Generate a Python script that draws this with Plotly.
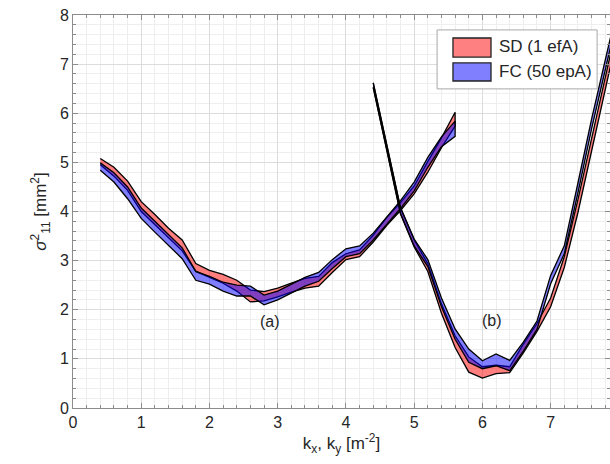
import plotly.graph_objects as go

# ---- band (a): x positions and upper/lower envelopes ----
x_a = [0.4, 0.6, 0.8, 1.0, 1.2, 1.4, 1.6, 1.8, 2.0, 2.2, 2.4, 2.6, 2.8, 3.0,
       3.2, 3.4, 3.6, 3.8, 4.0, 4.2, 4.4, 4.6, 4.8, 5.0, 5.2, 5.4, 5.6]
sd_a_hi = [5.08, 4.90, 4.62, 4.20, 3.94, 3.66, 3.42, 2.94, 2.80, 2.72, 2.60, 2.40, 2.37, 2.44,
           2.54, 2.64, 2.68, 2.96, 3.14, 3.22, 3.52, 3.88, 4.18, 4.52, 5.02, 5.50, 6.02]
sd_a_lo = [4.95, 4.72, 4.43, 4.00, 3.74, 3.46, 3.20, 2.78, 2.66, 2.54, 2.38, 2.16, 2.18, 2.26,
           2.36, 2.44, 2.48, 2.76, 3.02, 3.08, 3.38, 3.72, 4.02, 4.36, 4.80, 5.30, 5.74]
fc_a_hi = [4.99, 4.79, 4.50, 4.07, 3.80, 3.52, 3.26, 2.78, 2.68, 2.56, 2.50, 2.48, 2.30, 2.38,
           2.52, 2.66, 2.76, 3.02, 3.24, 3.30, 3.56, 3.90, 4.22, 4.60, 5.10, 5.52, 5.84]
fc_a_lo = [4.84, 4.60, 4.26, 3.86, 3.58, 3.30, 3.04, 2.60, 2.52, 2.38, 2.28, 2.28, 2.10, 2.20,
           2.34, 2.48, 2.58, 2.84, 3.08, 3.14, 3.42, 3.74, 4.06, 4.42, 4.90, 5.32, 5.53]

# ---- band (b) ----
x_b = [4.4, 4.6, 4.8, 5.0, 5.2, 5.4, 5.6, 5.8, 6.0, 6.2, 6.4, 6.6, 6.8, 7.0,
       7.2, 7.4, 7.6, 7.8, 8.0]
sd_b_hi = [6.62, 5.36, 4.07, 3.42, 2.94, 2.12, 1.47, 1.04, 0.84, 0.87, 0.84, 1.30, 1.72, 2.24,
           3.08, 4.24, 5.48, 6.72, 7.97]
sd_b_lo = [6.52, 5.24, 3.95, 3.28, 2.78, 1.93, 1.23, 0.73, 0.61, 0.70, 0.72, 1.12, 1.56, 2.06,
           2.86, 3.98, 5.22, 6.48, 7.73]
fc_b_hi = [6.62, 5.37, 4.08, 3.44, 3.02, 2.24, 1.61, 1.20, 0.96, 1.10, 0.97, 1.34, 1.77, 2.70,
           3.30, 4.58, 5.88, 7.08, 8.28]
fc_b_lo = [6.53, 5.25, 3.96, 3.30, 2.88, 2.06, 1.40, 0.93, 0.80, 0.86, 0.76, 1.16, 1.60, 2.53,
           3.14, 4.38, 5.68, 6.88, 8.08]

labels = ["(a)", "(b)"]
label_x = [2.89, 6.14]
label_y = [1.77, 1.79]

legend_names = ["SD (1 efA)", "FC (50 epA)"]

SD_FILL = "rgba(255,0,0,0.5)"
FC_FILL = "rgba(0,0,255,0.5)"
SD_SWATCH = "rgb(255,128,128)"
FC_SWATCH = "rgb(128,128,255)"
FONT = "Liberation Sans, Arial, sans-serif"
TXT = "#262626"


def band(x, hi, lo, fill, name):
    return go.Scatter(
        x=list(x) + list(x)[::-1],
        y=list(hi) + list(lo)[::-1],
        fill="toself", fillcolor=fill,
        mode="lines", line=dict(color="black", width=1.3),
        name=name, showlegend=False,
        hoverinfo="skip",
    )


fig = go.Figure()
fig.add_trace(band(x_a, sd_a_hi, sd_a_lo, SD_FILL, legend_names[0]))
fig.add_trace(band(x_b, sd_b_hi, sd_b_lo, SD_FILL, legend_names[0]))
fig.add_trace(band(x_a, fc_a_hi, fc_a_lo, FC_FILL, legend_names[1]))
fig.add_trace(band(x_b, fc_b_hi, fc_b_lo, FC_FILL, legend_names[1]))

for t, xx, yy in zip(labels, label_x, label_y):
    fig.add_annotation(x=xx, y=yy, text=t, showarrow=False,
                       font=dict(family=FONT, size=16, color=TXT))

# legend box with patch swatches (paper coordinates)
fig.add_shape(type="rect", xref="paper", yref="paper", layer="above",
              x0=0.678, x1=0.976, y0=0.812, y1=0.962,
              fillcolor="white", line=dict(color="#a8a8a8", width=1))
swatch_y = [(0.893, 0.9415), (0.832, 0.878)]
text_y = [0.919, 0.855]
for name, col, (y0, y1), ty in zip(legend_names, [SD_SWATCH, FC_SWATCH], swatch_y, text_y):
    fig.add_shape(type="rect", xref="paper", yref="paper", layer="above",
                  x0=0.7076, x1=0.7784, y0=y0, y1=y1,
                  fillcolor=col, line=dict(color="#222222", width=1.3))
    fig.add_annotation(xref="paper", yref="paper", x=0.7896, y=ty, text=name,
                       xanchor="left", yanchor="middle", showarrow=False,
                       font=dict(family=FONT, size=17, color=TXT))

axis_common = dict(
    showline=True, linecolor="#8c8c8c", linewidth=1, mirror="allticks",
    ticks="inside", ticklen=5, tickcolor="#8c8c8c",
    showgrid=True, gridcolor="#dcdcdc", gridwidth=1,
    zeroline=False,
    tickfont=dict(family=FONT, size=16, color=TXT),
    minor=dict(dtick=0.2, showgrid=True, gridcolor="#eeeeee",
               ticks="inside", ticklen=3, tickcolor="#8c8c8c"),
)

fig.update_xaxes(range=[0, 7.87], dtick=1, tick0=0,
                 title=dict(text="k<sub>x</sub>, k<sub>y</sub> [m<sup>-2</sup>]",
                            font=dict(family=FONT, size=17, color=TXT), standoff=6),
                 **axis_common)
fig.update_yaxes(range=[0, 8], dtick=1, tick0=0,
                 title=dict(text="<i>σ</i><sup>2</sup><sub>11</sub> [mm<sup>2</sup>]",
                            font=dict(family=FONT, size=17, color=TXT), standoff=8),
                 **axis_common)

fig.update_layout(
    width=610, height=464,
    margin=dict(l=73, r=0, t=15, b=56),
    plot_bgcolor="white", paper_bgcolor="white",
    showlegend=False,
)

fig.write_html("out.html")
